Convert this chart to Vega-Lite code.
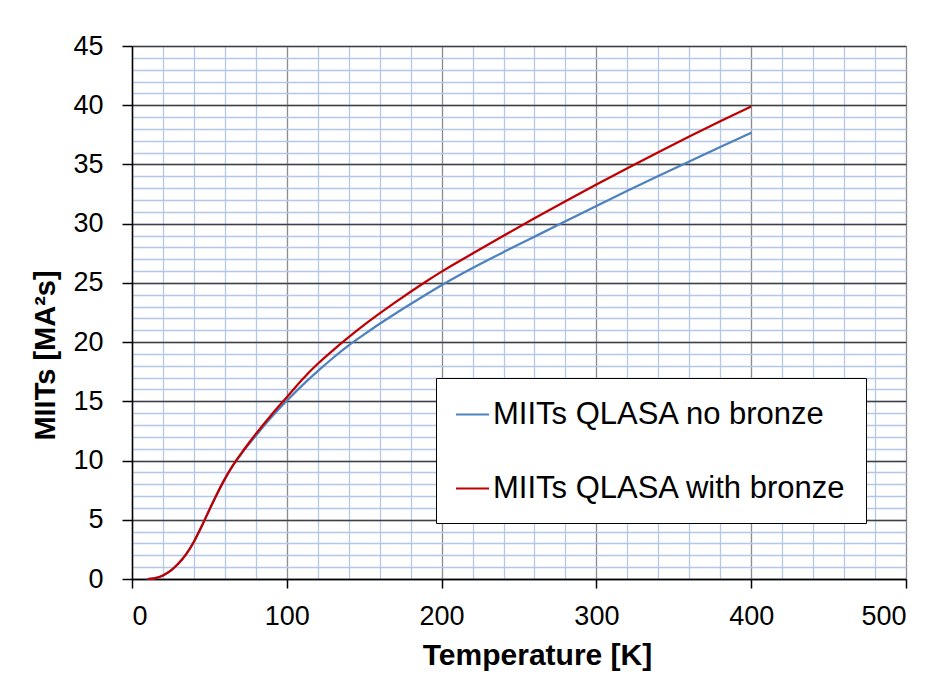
{
  "$schema": "https://vega.github.io/schema/vega-lite/v6.json",
  "width": 774,
  "height": 533,
  "autosize": {"type": "none"},
  "padding": {"left": 132, "top": 46, "right": 38, "bottom": 102},
  "background": "white",
  "config": {
    "font": "Liberation Sans",
    "view": {"stroke": null},
    "legend": {
      "orient": "none",
      "legendX": 304,
      "legendY": 332,
      "strokeColor": "#000000",
      "fillColor": "white",
      "padding": 19,
      "symbolType": "stroke",
      "symbolSize": 1089,
      "symbolStrokeWidth": 2,
      "labelFontSize": 31,
      "labelFont": "Liberation Sans",
      "labelColor": "#000000",
      "labelOffset": 3,
      "labelLimit": 600,
      "rowPadding": 41,
      "title": null
    }
  },
  "data": {
    "values": [
      {"T": 10, "MIITs": 0, "s": "MIITs QLASA no bronze"},
      {"T": 15, "MIITs": 0.08, "s": "MIITs QLASA no bronze"},
      {"T": 20, "MIITs": 0.3, "s": "MIITs QLASA no bronze"},
      {"T": 25, "MIITs": 0.7, "s": "MIITs QLASA no bronze"},
      {"T": 30, "MIITs": 1.3, "s": "MIITs QLASA no bronze"},
      {"T": 35, "MIITs": 2.1, "s": "MIITs QLASA no bronze"},
      {"T": 40, "MIITs": 3.15, "s": "MIITs QLASA no bronze"},
      {"T": 45, "MIITs": 4.45, "s": "MIITs QLASA no bronze"},
      {"T": 50, "MIITs": 5.85, "s": "MIITs QLASA no bronze"},
      {"T": 55, "MIITs": 7.2, "s": "MIITs QLASA no bronze"},
      {"T": 60, "MIITs": 8.45, "s": "MIITs QLASA no bronze"},
      {"T": 65, "MIITs": 9.55, "s": "MIITs QLASA no bronze"},
      {"T": 70, "MIITs": 10.45, "s": "MIITs QLASA no bronze"},
      {"T": 75, "MIITs": 11.3, "s": "MIITs QLASA no bronze"},
      {"T": 80, "MIITs": 12.1, "s": "MIITs QLASA no bronze"},
      {"T": 90, "MIITs": 13.65, "s": "MIITs QLASA no bronze"},
      {"T": 100, "MIITs": 15.05, "s": "MIITs QLASA no bronze"},
      {"T": 110, "MIITs": 16.35, "s": "MIITs QLASA no bronze"},
      {"T": 120, "MIITs": 17.55, "s": "MIITs QLASA no bronze"},
      {"T": 130, "MIITs": 18.68, "s": "MIITs QLASA no bronze"},
      {"T": 140, "MIITs": 19.72, "s": "MIITs QLASA no bronze"},
      {"T": 150, "MIITs": 20.65, "s": "MIITs QLASA no bronze"},
      {"T": 160, "MIITs": 21.55, "s": "MIITs QLASA no bronze"},
      {"T": 170, "MIITs": 22.4, "s": "MIITs QLASA no bronze"},
      {"T": 180, "MIITs": 23.22, "s": "MIITs QLASA no bronze"},
      {"T": 190, "MIITs": 24.02, "s": "MIITs QLASA no bronze"},
      {"T": 200, "MIITs": 24.8, "s": "MIITs QLASA no bronze"},
      {"T": 220, "MIITs": 26.25, "s": "MIITs QLASA no bronze"},
      {"T": 240, "MIITs": 27.6, "s": "MIITs QLASA no bronze"},
      {"T": 260, "MIITs": 28.9, "s": "MIITs QLASA no bronze"},
      {"T": 280, "MIITs": 30.2, "s": "MIITs QLASA no bronze"},
      {"T": 300, "MIITs": 31.5, "s": "MIITs QLASA no bronze"},
      {"T": 320, "MIITs": 32.77, "s": "MIITs QLASA no bronze"},
      {"T": 340, "MIITs": 34.02, "s": "MIITs QLASA no bronze"},
      {"T": 360, "MIITs": 35.25, "s": "MIITs QLASA no bronze"},
      {"T": 380, "MIITs": 36.47, "s": "MIITs QLASA no bronze"},
      {"T": 400, "MIITs": 37.68, "s": "MIITs QLASA no bronze"},
      {"T": 10, "MIITs": 0, "s": "MIITs QLASA with bronze"},
      {"T": 15, "MIITs": 0.08, "s": "MIITs QLASA with bronze"},
      {"T": 20, "MIITs": 0.3, "s": "MIITs QLASA with bronze"},
      {"T": 25, "MIITs": 0.7, "s": "MIITs QLASA with bronze"},
      {"T": 30, "MIITs": 1.3, "s": "MIITs QLASA with bronze"},
      {"T": 35, "MIITs": 2.1, "s": "MIITs QLASA with bronze"},
      {"T": 40, "MIITs": 3.15, "s": "MIITs QLASA with bronze"},
      {"T": 45, "MIITs": 4.45, "s": "MIITs QLASA with bronze"},
      {"T": 50, "MIITs": 5.85, "s": "MIITs QLASA with bronze"},
      {"T": 55, "MIITs": 7.2, "s": "MIITs QLASA with bronze"},
      {"T": 60, "MIITs": 8.45, "s": "MIITs QLASA with bronze"},
      {"T": 65, "MIITs": 9.55, "s": "MIITs QLASA with bronze"},
      {"T": 70, "MIITs": 10.5, "s": "MIITs QLASA with bronze"},
      {"T": 75, "MIITs": 11.4, "s": "MIITs QLASA with bronze"},
      {"T": 80, "MIITs": 12.25, "s": "MIITs QLASA with bronze"},
      {"T": 90, "MIITs": 13.85, "s": "MIITs QLASA with bronze"},
      {"T": 100, "MIITs": 15.35, "s": "MIITs QLASA with bronze"},
      {"T": 110, "MIITs": 16.85, "s": "MIITs QLASA with bronze"},
      {"T": 120, "MIITs": 18.17, "s": "MIITs QLASA with bronze"},
      {"T": 130, "MIITs": 19.33, "s": "MIITs QLASA with bronze"},
      {"T": 140, "MIITs": 20.42, "s": "MIITs QLASA with bronze"},
      {"T": 150, "MIITs": 21.45, "s": "MIITs QLASA with bronze"},
      {"T": 160, "MIITs": 22.42, "s": "MIITs QLASA with bronze"},
      {"T": 170, "MIITs": 23.35, "s": "MIITs QLASA with bronze"},
      {"T": 180, "MIITs": 24.25, "s": "MIITs QLASA with bronze"},
      {"T": 190, "MIITs": 25.12, "s": "MIITs QLASA with bronze"},
      {"T": 200, "MIITs": 25.95, "s": "MIITs QLASA with bronze"},
      {"T": 220, "MIITs": 27.48, "s": "MIITs QLASA with bronze"},
      {"T": 240, "MIITs": 28.98, "s": "MIITs QLASA with bronze"},
      {"T": 260, "MIITs": 30.45, "s": "MIITs QLASA with bronze"},
      {"T": 280, "MIITs": 31.89, "s": "MIITs QLASA with bronze"},
      {"T": 300, "MIITs": 33.3, "s": "MIITs QLASA with bronze"},
      {"T": 320, "MIITs": 34.68, "s": "MIITs QLASA with bronze"},
      {"T": 340, "MIITs": 36.03, "s": "MIITs QLASA with bronze"},
      {"T": 360, "MIITs": 37.35, "s": "MIITs QLASA with bronze"},
      {"T": 380, "MIITs": 38.64, "s": "MIITs QLASA with bronze"},
      {"T": 400, "MIITs": 39.9, "s": "MIITs QLASA with bronze"}
    ]
  },
  "layer": [
    {
      "mark": {"type": "line", "opacity": 0},
      "encoding": {
        "x": {
          "field": "T", "type": "quantitative",
          "scale": {"domain": [0, 500], "nice": false, "zero": true},
          "axis": {
            "orient": "bottom", "values": [0,20,40,60,80,100,120,140,160,180,200,220,240,260,280,300,320,340,360,380,400,420,440,460,480,500],
            "grid": true, "gridColor": "#b4c7e7", "gridWidth": 1.3, "gridOpacity": 1,
            "labels": false, "ticks": false, "domain": false, "title": null
          }
        },
        "y": {
          "field": "MIITs", "type": "quantitative",
          "scale": {"domain": [0, 45], "nice": false},
          "axis": {
            "orient": "left", "values": [0,1,2,3,4,5,6,7,8,9,10,11,12,13,14,15,16,17,18,19,20,21,22,23,24,25,26,27,28,29,30,31,32,33,34,35,36,37,38,39,40,41,42,43,44,45],
            "grid": true, "gridColor": "#b4c7e7", "gridWidth": 1.3, "gridOpacity": 1,
            "labels": false, "ticks": false, "domain": false, "title": null
          }
        },
        "detail": {"field": "s"}
      }
    },
    {
      "mark": {"type": "line", "strokeWidth": 2.25, "interpolate": "monotone"},
      "encoding": {
        "x": {
          "field": "T", "type": "quantitative",
          "axis": {
            "orient": "bottom", "values": [0,100,200,300,400,500],
            "grid": true, "gridColor": "#8c8c8c", "gridWidth": 1.2, "gridOpacity": 1,
            "domain": true, "domainColor": "#000000", "domainWidth": 1.5,
            "ticks": true, "tickColor": "#000000", "tickSize": 9, "tickWidth": 1.5,
            "labelFontSize": 27, "labelColor": "#000000", "labelPadding": 15,
            "title": "Temperature [K]", "titleFontSize": 30, "titleFontWeight": "bold", "titleColor": "#000000", "titlePadding": 11, "titleX": 405
          }
        },
        "y": {
          "field": "MIITs", "type": "quantitative",
          "axis": {
            "orient": "left", "values": [0,5,10,15,20,25,30,35,40,45],
            "grid": true, "gridColor": "#404040", "gridWidth": 1.3, "gridOpacity": 1,
            "domain": true, "domainColor": "#000000", "domainWidth": 1.5,
            "ticks": true, "tickColor": "#000000", "tickSize": 10, "tickWidth": 1.5,
            "labelFontSize": 27, "labelColor": "#000000", "labelPadding": 19,
            "title": "MIITs [MA²s]", "titleFontSize": 29, "titleFontWeight": "bold", "titleColor": "#000000", "titlePadding": 12, "titleY": 309
          }
        },
        "color": {
          "field": "s", "type": "nominal",
          "scale": {"domain": ["MIITs QLASA no bronze", "MIITs QLASA with bronze"], "range": ["#4f81bd", "#c00000"]},
          "legend": {"title": null}
        }
      }
    }
  ],
  "resolve": {"axis": {"x": "independent", "y": "independent"}}
}
